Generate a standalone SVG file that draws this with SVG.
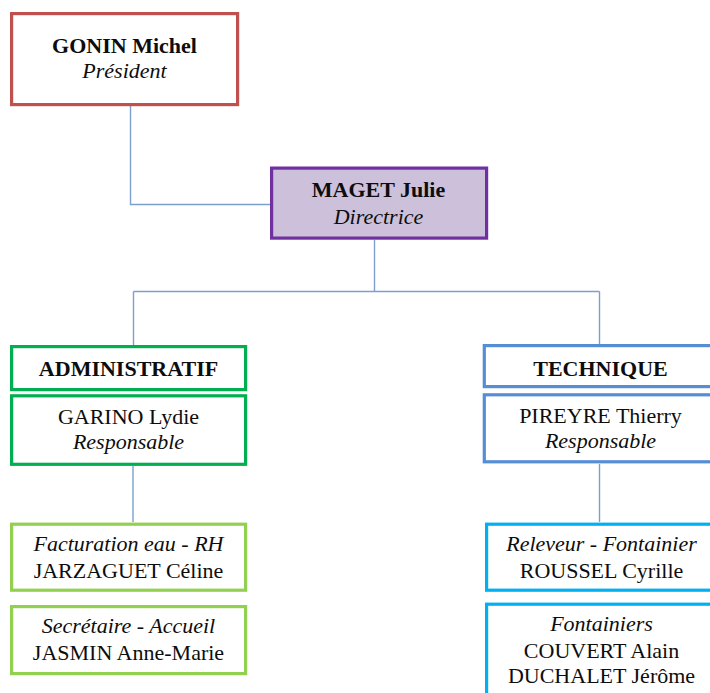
<svg xmlns="http://www.w3.org/2000/svg" width="710" height="693" viewBox="0 0 710 693">
<style>
text{font-family:"Liberation Serif","Times New Roman","DejaVu Serif",serif;font-size:22px;fill:#0d0d0d;text-anchor:middle}
.b{font-weight:bold}
.i{font-style:italic}
rect{fill:#fff;stroke-width:3.2}
.conn{fill:none;stroke:#7ba0cf;stroke-width:1.4}
</style>
<rect width="710" height="693" fill="#fff" style="stroke:none"/>
<g id="connectors" class="conn">
<path d="M130.5 106 V204.5 H270"/>
<path d="M374.5 240 V291.5"/>
<path d="M133.5 291.5 H599.5"/>
<path d="M133.5 291.5 V345"/>
<path d="M599.5 291.5 V344"/>
<path d="M133 466 V522"/>
<path d="M599.5 464 V522"/>
</g>
<g id="gonin">
<rect x="11.6" y="13.6" width="226" height="91" style="stroke:#c0504d"/>
<text x="124.5" y="53" class="b">GONIN Michel</text>
<text x="124.5" y="78" class="i">Président</text>
</g>
<g id="maget">
<rect x="271.6" y="168.1" width="215" height="70" style="fill:#ccc0da;stroke:#7030a0"/>
<text x="378.5" y="197" class="b">MAGET Julie</text>
<text x="378.5" y="224" class="i">Directrice</text>
</g>
<g id="administratif">
<rect x="11.6" y="346.6" width="234" height="43" style="stroke:#00b050"/>
<text x="128.5" y="375.5" class="b">ADMINISTRATIF</text>
</g>
<g id="garino">
<rect x="11.6" y="395.8" width="234" height="68.5" style="stroke:#00b050"/>
<text x="128.5" y="424" >GARINO Lydie</text>
<text x="128.5" y="448.5" class="i">Responsable</text>
</g>
<g id="jarzaguet">
<rect x="11.6" y="524.2" width="234" height="66" style="stroke:#92d050"/>
<text x="128.5" y="550.5" class="i">Facturation eau - RH</text>
<text x="128.5" y="577.5">JARZAGUET Céline</text>
</g>
<g id="jasmin">
<rect x="11.6" y="606.6" width="234" height="67" style="stroke:#92d050"/>
<text x="128.5" y="633" class="i">Secrétaire - Accueil</text>
<text x="128.5" y="660">JASMIN Anne-Marie</text>
</g>
<g id="technique">
<rect x="484.3" y="345.6" width="238" height="41" style="stroke:#558ed5"/>
<text x="600.5" y="375.5" class="b">TECHNIQUE</text>
</g>
<g id="pireyre">
<rect x="484.3" y="394.8" width="238" height="67" style="stroke:#558ed5"/>
<text x="600.5" y="423" >PIREYRE Thierry</text>
<text x="600.5" y="448" class="i">Responsable</text>
</g>
<g id="roussel">
<rect x="486.6" y="524.2" width="238" height="66" style="stroke:#00b0f0"/>
<text x="601.5" y="550.5" class="i">Releveur - Fontainier</text>
<text x="601.5" y="577.5">ROUSSEL Cyrille</text>
</g>
<g id="fontainiers">
<rect x="486.6" y="604.2" width="238" height="100" style="stroke:#00b0f0"/>
<text x="601.5" y="631" class="i">Fontainiers</text>
<text x="601.5" y="658">COUVERT Alain</text>
<text x="601.5" y="683">DUCHALET Jérôme</text>
</g>
</svg>
